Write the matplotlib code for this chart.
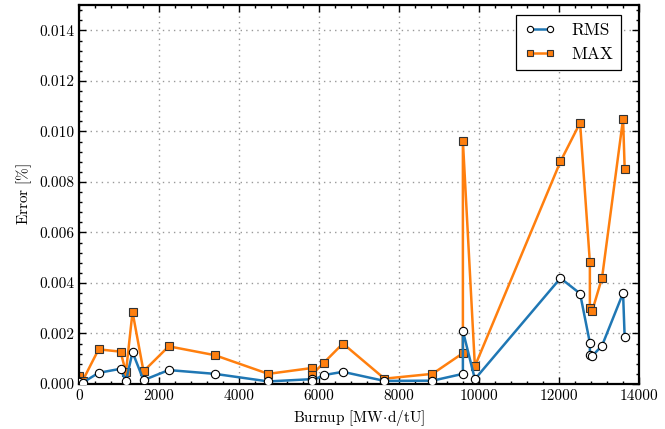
import matplotlib
matplotlib.use("Agg")
import matplotlib.pyplot as plt
from matplotlib.ticker import AutoMinorLocator, FormatStrFormatter

plt.rcParams["font.family"] = "serif"
plt.rcParams["font.serif"] = ["cmr10"]
plt.rcParams["mathtext.fontset"] = "cm"
plt.rcParams["axes.unicode_minus"] = False

# ── Data ──────────────────────────────────────────────────────────────────────
burnup = [0, 85, 487, 1035, 1170, 1335, 1610, 2240, 3392, 4730, 5815, 5815,
          6112, 6595, 7635, 8835, 9595, 9595, 9895, 12035, 12525, 12770,
          12770, 12830, 13075, 13600, 13640]
rms = [0.00008, 0.00005, 0.00044, 0.00060, 0.00011, 0.00126, 0.00015,
       0.00055, 0.00040, 0.00010, 0.00019, 0.00012, 0.00035, 0.00048,
       0.00012, 0.00013, 0.00040, 0.00210, 0.00019, 0.00419, 0.00358,
       0.00163, 0.00114, 0.00111, 0.00152, 0.00360, 0.00185]
err_max = [0.00032, 0.00012, 0.00137, 0.00128, 0.00046, 0.00285, 0.00050,
           0.00149, 0.00114, 0.00040, 0.00063, 0.00036, 0.00083, 0.00160,
           0.00021, 0.00040, 0.00122, 0.00963, 0.00070, 0.00881, 0.01034,
           0.00482, 0.00302, 0.00290, 0.00421, 0.01050, 0.00853]

BLUE = "#1f77b4"
ORANGE = "#ff7f0e"

fig = plt.figure(figsize=(6.65, 4.29), dpi=100)
ax = fig.add_axes([0.119, 0.105, 0.842, 0.883])

ax.plot(burnup, rms, "-o", color=BLUE, lw=1.8, ms=6,
        mfc="white", mec="black", mew=0.8, label="RMS", zorder=3)
ax.plot(burnup, err_max, "-s", color=ORANGE, lw=1.8, ms=6,
        mfc=ORANGE, mec="#333333", mew=0.8, label="MAX", zorder=2)

ax.set_xlim(0, 14000)
ax.set_ylim(0, 0.015)
ax.set_yticks([0.000, 0.002, 0.004, 0.006, 0.008, 0.010, 0.012, 0.014])
ax.yaxis.set_major_formatter(FormatStrFormatter("%.3f"))
ax.xaxis.set_minor_locator(AutoMinorLocator(5))
ax.yaxis.set_minor_locator(AutoMinorLocator(5))

ax.tick_params(which="both", direction="in", top=True, right=True,
               labelsize=11, width=1)
ax.tick_params(which="major", length=5)
ax.tick_params(which="minor", length=2.5)
for s in ax.spines.values():
    s.set_linewidth(1.6)

ax.grid(True, which="major", linestyle=(0, (1, 3)), color="#999999", lw=1.0)

ax.set_xlabel(r"$\mathrm{Burnup\ [MW\!\cdot\! d/tU]}$", fontsize=11)
ax.set_ylabel(r"$\mathrm{Error\ [\%]}$", fontsize=11)

leg = ax.legend(loc="upper right", bbox_to_anchor=(0.983, 0.996),
                fontsize=12.5, fancybox=False, framealpha=1,
                edgecolor="black", borderpad=0.45, numpoints=2,
                handlelength=1.8, markerscale=0.75, handletextpad=0.9)
leg.get_frame().set_linewidth(0.9)

fig.savefig("out.png", dpi=100)
